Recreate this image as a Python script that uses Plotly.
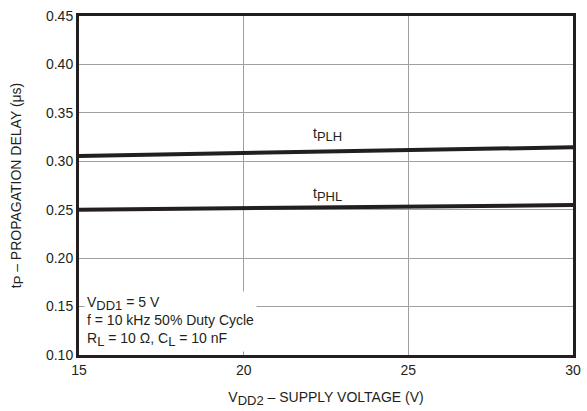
import plotly.graph_objects as go

supply_voltage = [15, 30]
t_plh = [0.3055, 0.3145]
t_phl = [0.2500, 0.2548]
x_ticks = [15, 20, 25, 30]
y_ticks = [0.10, 0.15, 0.20, 0.25, 0.30, 0.35, 0.40, 0.45]

FONT = "Liberation Sans, Arial, sans-serif"
INK = "#231f20"


def sub(t, size):
    return f"<sub><span style='font-size:{size}px'>{t}</span></sub>"


fig = go.Figure()
fig.add_trace(go.Scatter(x=supply_voltage, y=t_plh, mode="lines",
                         line=dict(color=INK, width=4), showlegend=False))
fig.add_trace(go.Scatter(x=supply_voltage, y=t_phl, mode="lines",
                         line=dict(color=INK, width=4), showlegend=False))

fig.add_annotation(x=22.55, y=0.3275, text="t" + sub("PLH", 13), showarrow=False,
                   font=dict(family=FONT, size=14, color=INK))
fig.add_annotation(x=22.55, y=0.2660, text="t" + sub("PHL", 13), showarrow=False,
                   font=dict(family=FONT, size=14, color=INK))

fig.add_annotation(xref="paper", yref="paper", x=0.01, y=0.008,
                   xanchor="left", yanchor="bottom", align="left",
                   text="V" + sub("DD1", 13) + " = 5 V<br>f = 10 kHz 50% Duty Cycle<br>R"
                        + sub("L", 13) + " = 10 Ω, C" + sub("L", 13) + " = 10 nF",
                   showarrow=False, bgcolor="white", borderpad=2,
                   font=dict(family=FONT, size=14, color=INK))

fig.update_xaxes(range=[15, 30], tickvals=x_ticks, ticks="", showgrid=True,
                 gridcolor="#a0a0a0", gridwidth=1, showline=True, linecolor=INK,
                 linewidth=3, mirror=True, zeroline=False, automargin=False,
                 tickfont=dict(family=FONT, size=14, color=INK),
                 title=dict(text="V" + sub("DD2", 13) + " – SUPPLY VOLTAGE (V)", standoff=16,
                            font=dict(family=FONT, size=14, color=INK)))
fig.update_yaxes(range=[0.10, 0.45], tickvals=y_ticks, tickformat=".2f", ticks="",
                 showgrid=True, gridcolor="#a0a0a0", gridwidth=1, showline=True,
                 linecolor=INK, linewidth=3, mirror=True, zeroline=False, automargin=False,
                 tickfont=dict(family=FONT, size=14, color=INK),
                 title=dict(text="t" + sub("P", 13) + " – PROPAGATION DELAY (μs)", standoff=22,
                            font=dict(family=FONT, size=14, color=INK)))

fig.update_layout(width=587, height=411, margin=dict(l=79, r=14, t=16, b=56),
                  paper_bgcolor="white", plot_bgcolor="white")

fig.write_html("out.html", config={"displayModeBar": False},
               post_script="document.body.style.margin='0';document.body.style.padding='0';")
